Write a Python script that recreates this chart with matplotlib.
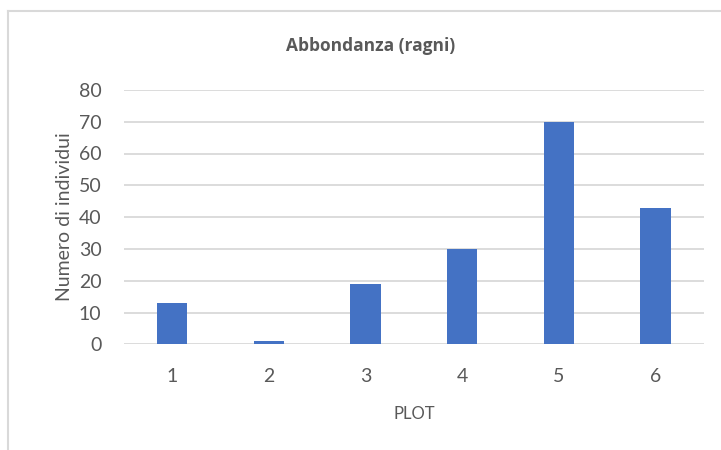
import matplotlib
matplotlib.use("Agg")
import matplotlib.pyplot as plt
from matplotlib.lines import Line2D

categories = ["1", "2", "3", "4", "5", "6"]
values = [13, 1, 19, 30, 70, 43]
yticks = [0, 10, 20, 30, 40, 50, 60, 70, 80]

title = "Abbondanza (ragni)"
xlabel = "PLOT"
ylabel = "Numero di individui"

plt.rcParams['font.family'] = ['Lato', 'DejaVu Sans']
txt = '#595959'
grid = '#D9D9D9'
bar_color = '#4472C4'

W, H = 721, 450
fig = plt.figure(figsize=(W / 100, H / 100), dpi=100)
ax = fig.add_axes([123.8 / W, (H - 344.3) / H, (704 - 123.8) / W, (344.3 - 89.9) / H])

x = list(range(len(categories)))
ax.bar(x, values, width=0.314, color=bar_color, zorder=3)
ax.set_xlim(-0.5, len(categories) - 0.5)
ax.set_ylim(0, 80)
ax.set_yticks(yticks)
ax.set_xticks(x)
ax.set_xticklabels(categories)
ax.yaxis.grid(True, color=grid, linewidth=1.3, zorder=0)
ax.set_axisbelow(True)
for s in ax.spines.values():
    s.set_visible(False)
ax.tick_params(length=0, labelsize=14, colors=txt)
ax.tick_params(axis='y', pad=16)
ax.tick_params(axis='x', pad=17)
ax.set_xlabel(xlabel, fontsize=12, color=txt, labelpad=15)
ax.set_ylabel(ylabel, fontsize=14, color=txt, labelpad=4)

fig.text(371 / W, (H - 46) / H, title, ha='center', va='center', fontsize=12.5,
         fontweight='bold', color=txt, family=['Open Sans', 'DejaVu Sans'])

# chart border (top and left visible)
fig.add_artist(Line2D([7.5 / W, 1.0], [(H - 10.5) / H, (H - 10.5) / H], color=grid, linewidth=1.5))
fig.add_artist(Line2D([7.5 / W, 7.5 / W], [0, (H - 10.5) / H], color=grid, linewidth=1.5))

fig.savefig("out.png", dpi=100)
